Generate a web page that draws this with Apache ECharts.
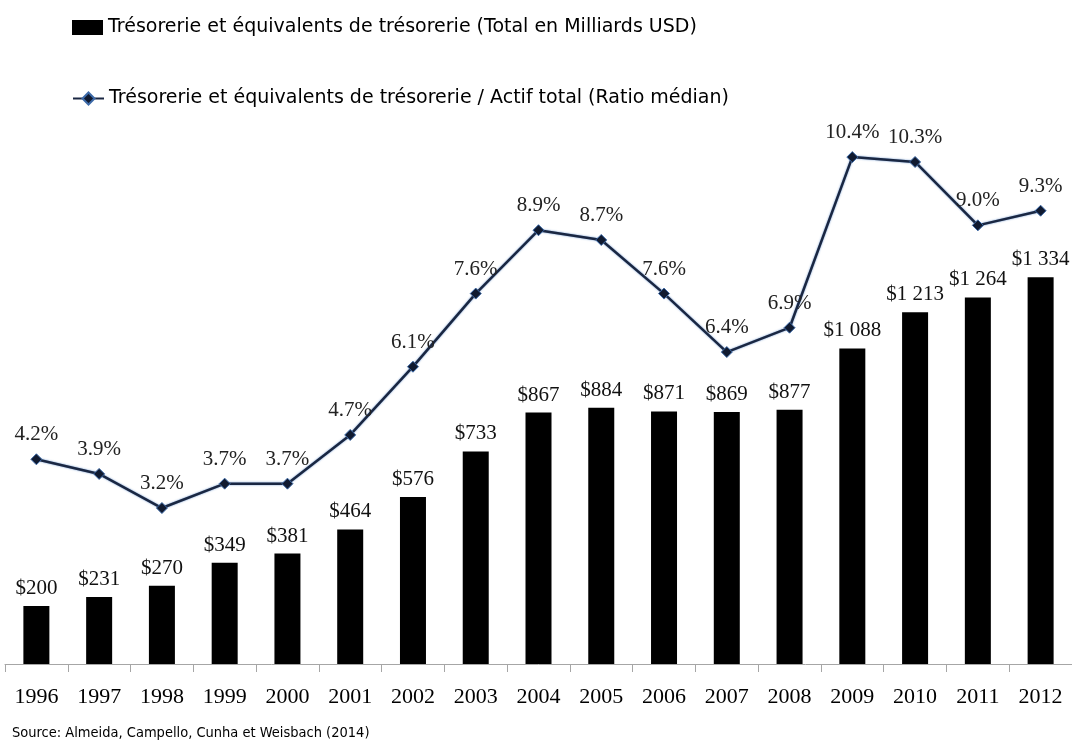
<!DOCTYPE html>
<html>
<head>
<meta charset="utf-8">
<script src="https://cdn.jsdelivr.net/npm/echarts@6/dist/echarts.min.js"></script>
<style>
html,body{margin:0;padding:0;background:#fff;}
#chart{width:1072px;height:743px;}
</style>
</head>
<body>
<div id="chart"></div>
<script>
var years = ['1996','1997','1998','1999','2000','2001','2002','2003','2004','2005','2006','2007','2008','2009','2010','2011','2012'];
var cashTotal = [200,231,270,349,381,464,576,733,867,884,871,869,877,1088,1213,1264,1334];
var cashRatio = [4.2,3.9,3.2,3.7,3.7,4.7,6.1,7.6,8.9,8.7,7.6,6.4,6.9,10.4,10.3,9.0,9.3];
var barName = 'Trésorerie et équivalents de trésorerie (Total en Milliards USD)';
var lineName = 'Trésorerie et équivalents de trésorerie / Actif total (Ratio médian)';
var sourceText = 'Source: Almeida, Campello, Cunha et Weisbach (2014)';

var serif = "'Liberation Serif', 'DejaVu Serif', serif";
var sans = "'DejaVu Sans', sans-serif";
var sansCond = "'DejaVu Sans Condensed', 'DejaVu Sans', sans-serif";

function fmtMoney(v){
  var s = String(v);
  if (s.length > 3) s = s.slice(0, s.length-3) + ' ' + s.slice(s.length-3);
  return '$' + s;
}

var chart = echarts.init(document.getElementById('chart'), null, {renderer:'canvas'});
chart.setOption({
  animation:false,
  backgroundColor:'#fff',
  grid:{left:5, right:0, top:84, bottom:79, containLabel:false},
  legend:[
    {data:[{name:barName, icon:'rect'}], left:72, top:18, itemWidth:31, itemHeight:15, padding:0,
     textStyle:{fontFamily:sans, fontSize:19, color:'#000'}},
    {data:[lineName], left:72, top:89, itemWidth:31, itemHeight:15, padding:0,
     textStyle:{fontFamily:sans, fontSize:19, color:'#000'}}
  ],
  xAxis:{
    type:'category', data:years,
    axisLine:{show:true, lineStyle:{color:'#a6a6a6', width:1}},
    axisTick:{show:true, length:8, lineStyle:{color:'#a6a6a6'}},
    axisLabel:{fontFamily:serif, fontSize:22, color:'#000', margin:22}
  },
  yAxis:[
    {type:'value', min:0, max:2000, show:false, splitLine:{show:false}},
    {type:'value', min:0, max:11.9, show:false, splitLine:{show:false}}
  ],
  graphic:[
    {type:'text', left:12, top:726, style:{text:sourceText, font:"14.5px " + sansCond, fill:'#000'}}
  ],
  series:[
    {name:barName, type:'bar', data:cashTotal, barWidth:26, yAxisIndex:0,
     itemStyle:{color:'#000'},
     label:{show:true, position:'top', distance:7, fontFamily:serif, fontSize:21, color:'#111',
       formatter:function(p){return fmtMoney(p.value);}}},
    {name:lineName, type:'line', data:cashRatio, yAxisIndex:1, z:5,
     symbol:'diamond', symbolSize:11,
     lineStyle:{color:'#1a2742', width:2.5, shadowColor:'rgba(70,120,190,0.8)', shadowBlur:2},
     itemStyle:{color:'#101a30', borderColor:'#3d6aa8', borderWidth:1},
     label:{show:true, position:'top', distance:8, fontFamily:serif, fontSize:21, color:'#222',
       formatter:function(p){return p.value.toFixed(1) + '%';}}}
  ]
});
</script>
</body>
</html>
